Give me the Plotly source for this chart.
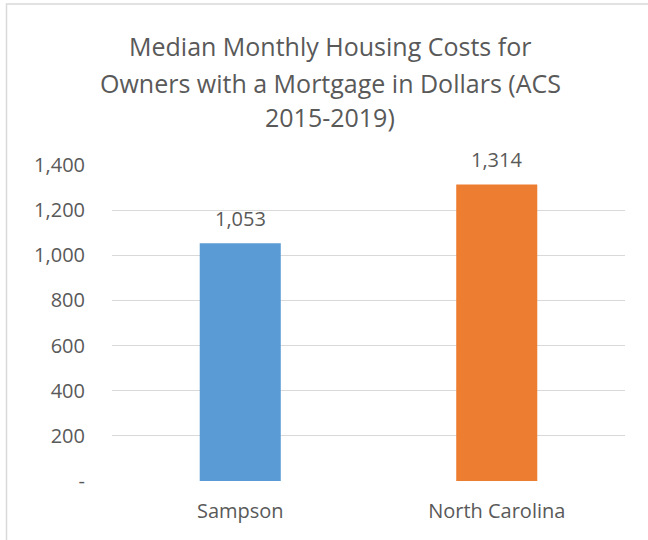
import plotly.graph_objects as go

categories = ["Sampson", "North Carolina"]
values = [1053, 1314]
colors = ["#5B9BD5", "#ED7D31"]
title_lines = ["Median Monthly Housing Costs for",
               "Owners with a Mortgage in Dollars (ACS",
               "2015-2019)"]
tick_vals = [0, 200, 400, 600, 800, 1000, 1200, 1400]
tick_text = ["-", "200", "400", "600", "800", "1,000", "1,200", "1,400"]

W, H = 648, 540
L, R, T, B = 112, 23, 165, 59
pw, ph = W - L - R, H - T - B

def px(x):
    return (x - L) / pw

def py(y):
    return (H - B - y) / ph

FONT = "Open Sans"
TXT = "#595959"

fig = go.Figure()
fig.add_trace(go.Bar(
    x=categories, y=values, marker_color=colors, marker_line_width=0,
    hoverinfo="x+y",
))

annotations = []
for line, yc in zip(title_lines, [46, 83, 117]):
    annotations.append(dict(text=line, xref="paper", yref="paper",
                            x=px(330), y=py(yc), xanchor="center", yanchor="middle",
                            showarrow=False,
                            font=dict(family=FONT, size=25, color=TXT)))
for c, v in zip(categories, values):
    annotations.append(dict(text=f"{v:,}", x=c, y=v, xref="x", yref="y",
                            xanchor="center", yanchor="middle", yshift=25,
                            showarrow=False,
                            font=dict(family=FONT, size=20, color=TXT)))

fig.update_layout(
    width=W, height=H,
    margin=dict(l=L, r=R, t=T, b=B),
    paper_bgcolor="white", plot_bgcolor="white",
    showlegend=False, bargap=0.684,
    annotations=annotations,
    shapes=[dict(type="rect", xref="paper", yref="paper",
                 x0=px(6.5), x1=px(660), y0=py(560), y1=py(4),
                 line=dict(color="#D9D9D9", width=1.5), layer="below")],
    font=dict(family=FONT, color=TXT),
)
fig.update_yaxes(range=[0, 1400], tickvals=tick_vals, ticktext=tick_text,
                 showgrid=True, gridcolor="#D9D9D9", gridwidth=1,
                 zeroline=False, showline=False, ticks="",
                 ticklabelstandoff=26,
                 tickfont=dict(family=FONT, size=20, color=TXT))
fig.update_xaxes(showgrid=False, showline=False, ticks="",
                 ticklabelstandoff=16,
                 tickfont=dict(family=FONT, size=20, color=TXT))

fig.write_html("out.html", config={"displayModeBar": False},
               post_script="document.body.style.margin='0px';document.body.style.overflow='hidden';")
